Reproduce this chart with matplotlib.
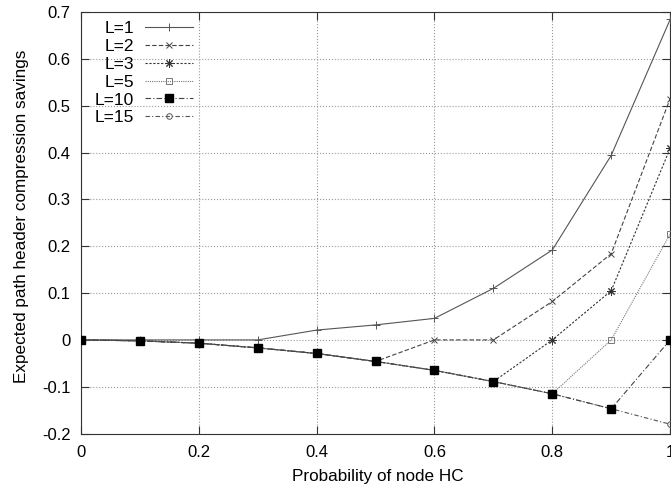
import matplotlib.pyplot as plt
from matplotlib.ticker import FuncFormatter

plt.rcParams['font.family'] = ['Liberation Sans', 'DejaVu Sans']

# probability of node HC
p = [0, 0.1, 0.2, 0.3, 0.4, 0.5, 0.6, 0.7, 0.8, 0.9, 1.0]

# expected savings per path length L
l1 = [0, 0, 0, 0, 0.021, 0.032, 0.046, 0.110, 0.192, 0.394, 0.684]
l2 = [0, -0.002, -0.007, -0.017, -0.029, -0.046, 0, 0, 0.082, 0.184, 0.515]
l3 = [0, -0.002, -0.007, -0.017, -0.029, -0.046, -0.065, -0.089, 0, 0.105, 0.409]
l5 = [0, -0.002, -0.007, -0.017, -0.029, -0.046, -0.065, -0.089, -0.115, 0, 0.226]
l10 = [0, -0.002, -0.007, -0.017, -0.029, -0.046, -0.065, -0.089, -0.115, -0.147, 0]
l15 = [0, -0.002, -0.007, -0.017, -0.029, -0.046, -0.065, -0.089, -0.115, -0.147, -0.180]

fig = plt.figure(figsize=(6.71, 4.92), dpi=100)
ax = fig.add_axes([0.1207, 0.1187, 0.878, 0.8569])

lw = 0.8
ax.plot(p, l1, color="#555555", lw=lw, ls="-", marker="+", ms=6, mew=0.7, label="L=1", zorder=3)
ax.plot(p, l2, color="#444444", lw=lw, ls=(0, (4, 2)), marker="x", ms=5, mew=0.7, label="L=2", zorder=3)
ax.plot(p, l3, color="#333333", lw=lw, ls=(0, (2, 1.5)), marker=(8, 2, 0), ms=6, mew=0.7, label="L=3", zorder=3)
ax.plot(p, l5, color="#777777", lw=lw, ls=(0, (1, 1)), marker="s", ms=5, mfc="none", mew=0.7, label="L=5", zorder=3)
ax.plot(p, l10, color="#444444", lw=lw, ls=(0, (5, 2, 1, 2)), marker="s", ms=5.5, mfc="black", mec="black", label="L=10", zorder=5)
ax.plot(p, l15, color="#555555", lw=lw, ls=(0, (4, 2, 1, 2)), marker="o", ms=4, mfc="none", mew=0.7, label="L=15", zorder=4)

ax.set_xlim(0, 1)
ax.set_ylim(-0.2, 0.7)
ax.set_xticks([0, 0.2, 0.4, 0.6, 0.8, 1.0])
ax.set_yticks([-0.2, -0.1, 0, 0.1, 0.2, 0.3, 0.4, 0.5, 0.6, 0.7])
fmt = FuncFormatter(lambda v, pos: "%g" % round(v, 2))
ax.xaxis.set_major_formatter(fmt)
ax.yaxis.set_major_formatter(fmt)
ax.tick_params(direction="in", top=True, right=True, labelsize=12, length=6, width=0.8, color="#333333")
ax.tick_params(axis="y", pad=7.5)
ax.tick_params(axis="x", pad=8.5)
ax.grid(True, ls=":", color="#999999", lw=0.8)
for s in ax.spines.values():
    s.set_color("#333333")
    s.set_linewidth(0.8)

ax.set_xlabel("Probability of node HC", fontsize=12.3)
ax.set_ylabel("Expected path header compression savings", fontsize=12.3)
ax.xaxis.set_label_coords(0.503, -0.084)
ax.yaxis.set_label_coords(-0.088, 0.515)

ax.legend(loc="upper left", markerfirst=False, frameon=False, fontsize=12.5,
          handlelength=2.8, labelspacing=0.16, borderaxespad=0.1, handletextpad=0.64,
          bbox_to_anchor=(0.008, 1.0))

fig.savefig("out.png", dpi=100)
